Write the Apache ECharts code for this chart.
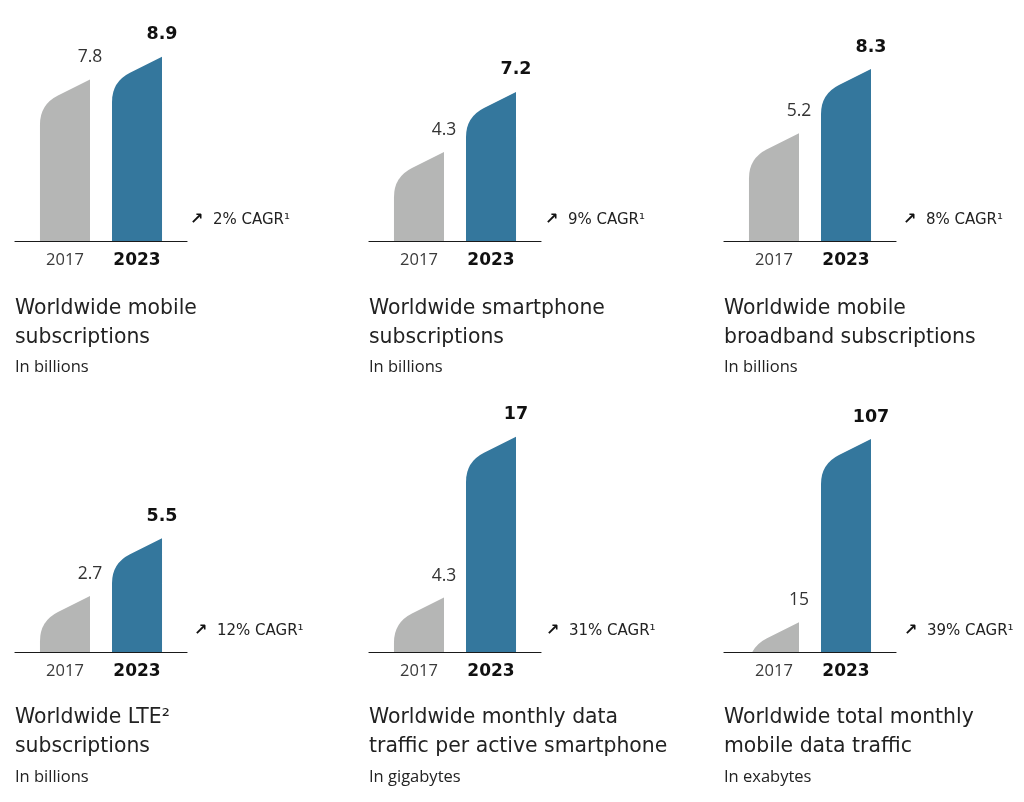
<!DOCTYPE html>
<html>
<head>
<meta charset="utf-8">
<script src="https://cdn.jsdelivr.net/npm/echarts@6/dist/echarts.min.js"></script>
<style>
html,body{margin:0;padding:0;background:#fff;}
#main{width:1024px;height:802px;}
</style>
</head>
<body>
<div id="main"></div>
<script>
// ---- data ----
const years = ['2017', '2023'];
const titles = [
  'Worldwide mobile\nsubscriptions',
  'Worldwide smartphone\nsubscriptions',
  'Worldwide mobile\nbroadband subscriptions',
  'Worldwide LTE\u00B2\nsubscriptions',
  'Worldwide monthly data\ntraffic per active smartphone',
  'Worldwide total monthly\nmobile data traffic'
];
const units = ['In billions', 'In billions', 'In billions', 'In billions', 'In gigabytes', 'In exabytes'];
const values2017 = [7.8, 4.3, 5.2, 2.7, 4.3, 15];
const values2023 = [8.9, 7.2, 8.3, 5.5, 17, 107];
const cagr = ['2%', '9%', '8%', '12%', '31%', '39%'];

// ---- layout ----
const colLeft = [15, 369, 724];
const rowBase = [241, 652];
const rowGridTop = [8, 405];
const rowTitleTop = [294, 703];
const rowUnitTop = [357, 767];
const axisWidth = 172;
const yMax = [11.25, 11.25, 11.25, 11.93, 19.5, 124.1];
const cagrLeft = [190, 545, 903, 194, 546, 904];
const colors = ['#b5b6b5', '#34779d'];
const FONT = '"Open Sans", "Noto Sans", sans-serif';
const WIDE = '"DejaVu Sans", sans-serif';

const chart = echarts.init(document.getElementById('main'), null, {renderer: 'canvas'});

const grid = [], xAxis = [], yAxis = [], series = [], title = [], graphic = [];

function renderBar(params, api) {
  const idx = api.value(0);
  const val = api.value(1);
  const top = api.coord([idx, val]);
  const base = api.coord([idx, 0]);
  const unit = api.size([1, 0])[0];
  const w = unit * 50 / 72;
  const x0 = top[0] - w / 2;
  const xr = x0 + w;
  const slope = 0.5;
  const py = top[1] + slope * w;
  const r1 = 20, dx = 18;
  const bottom = Math.max(base[1], py + r1);
  const path = 'M' + x0 + ',' + bottom +
    ' L' + x0 + ',' + (py + r1) +
    ' Q' + x0 + ',' + py + ' ' + (x0 + dx) + ',' + (py - dx * slope) +
    ' L' + xr + ',' + top[1] +
    ' L' + xr + ',' + bottom + ' Z';
  return {
    type: 'group',
    children: [
      {type: 'path', shape: {pathData: path}, style: {fill: colors[idx]}},
      {type: 'text', style: {
        text: String(val), x: xr, y: top[1] - 22,
        align: 'center', verticalAlign: 'middle',
        fontFamily: idx === 1 ? WIDE : FONT, fontSize: 17.5,
        fontWeight: idx === 1 ? 'bold' : 'normal',
        fill: idx === 1 ? '#111' : '#333'
      }}
    ]
  };
}

for (let i = 0; i < 6; i++) {
  const row = Math.floor(i / 3), col = i % 3;
  const left = colLeft[col];
  const base = rowBase[row];
  const gtop = rowGridTop[row];
  grid.push({left: left, top: gtop, width: axisWidth, height: base - gtop, containLabel: false});
  xAxis.push({
    gridIndex: i, type: 'value', min: -0.694, max: 1.694,
    axisLine: {show: true, lineStyle: {color: '#1a1a1a', width: 1.2}},
    axisTick: {show: false},
    splitLine: {show: false},
    axisLabel: {
      show: true, customValues: [0, 1], margin: 11,
      formatter: function (v) { const k = Math.round(v); return k === 0 ? '{a|' + years[0] + '}' : '{b|' + years[1] + '}'; },
      rich: {
        a: {fontFamily: FONT, fontSize: 16.5, color: '#3a3a3a', fontWeight: 'normal'},
        b: {fontFamily: WIDE, fontSize: 17, color: '#111', fontWeight: 'bold'}
      }
    }
  });
  yAxis.push({gridIndex: i, type: 'value', min: 0, max: yMax[i], show: false, splitLine: {show: false}});
  series.push({
    type: 'custom', xAxisIndex: i, yAxisIndex: i, clip: true,
    renderItem: renderBar,
    data: [[0, values2017[i]], [1, values2023[i]]],
    silent: true
  });
  title.push({
    text: titles[i], left: left, top: rowTitleTop[row], padding: 0,
    textStyle: {fontFamily: WIDE, fontSize: 20.4, lineHeight: 29, fontWeight: 'normal', color: '#222'}
  });
  title.push({
    text: units[i], left: left, top: rowUnitTop[row], padding: 0,
    textStyle: {fontFamily: FONT, fontSize: 16.5, lineHeight: 20, fontWeight: 'normal', color: '#222'}
  });
  graphic.push({
    type: 'text', x: cagrLeft[i], y: base - 21,
    style: {
      text: '{a|\u2197}  ' + cagr[i] + ' CAGR\u00B9',
      fontFamily: WIDE, fontSize: 15, fill: '#222', verticalAlign: 'middle',
      rich: {a: {fontFamily: WIDE, fontSize: 16, fontWeight: 'bold', fill: '#111'}}
    }
  });
}

chart.setOption({
  backgroundColor: '#fff',
  animation: false,
  title: title,
  grid: grid,
  xAxis: xAxis,
  yAxis: yAxis,
  series: series,
  graphic: graphic
});
</script>
</body>
</html>
